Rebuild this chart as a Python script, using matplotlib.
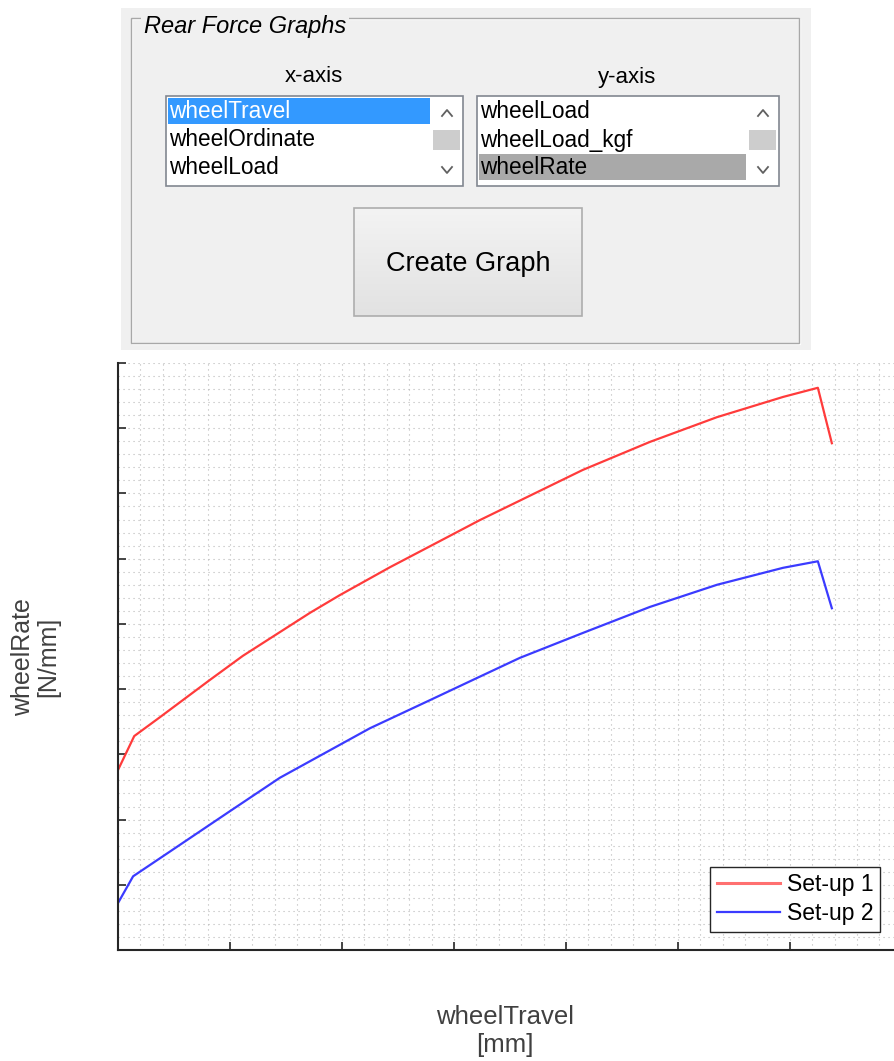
import numpy as np
import matplotlib.pyplot as plt
from matplotlib.patches import Rectangle
from matplotlib.lines import Line2D
from matplotlib.ticker import MultipleLocator
from matplotlib.colors import LinearSegmentedColormap

plt.rcParams['font.family'] = ['Liberation Sans', 'DejaVu Sans']

# GUI list contents
x_items = ["wheelTravel", "wheelOrdinate", "wheelLoad"]
y_items = ["wheelLoad", "wheelLoad_kgf", "wheelRate"]
series_names = ["Set-up 1", "Set-up 2"]

# wheel rate vs wheel travel
travel_1 = [0, 2.9, 7.5, 16.4, 22.3, 34.3, 39.6, 48.6, 57.5, 64.6, 83.0, 95.0, 107.0, 118.8, 125.0, 127.5]
rate_1 = [27.6, 32.8, 35.7, 41.4, 45.1, 51.7, 54.4, 58.7, 62.7, 65.9, 73.6, 77.9, 81.7, 84.8, 86.2, 77.7]
travel_2 = [0, 2.7, 10.5, 19.5, 28.9, 45.0, 55.7, 64.6, 71.8, 83.0, 95.0, 107.0, 118.8, 125.0, 127.5]
rate_2 = [7.2, 11.3, 15.8, 21.0, 26.4, 34.0, 38.3, 41.9, 44.8, 48.6, 52.6, 56.0, 58.6, 59.6, 52.4]

W, H = 894, 1061
fig = plt.figure(figsize=(W / 100, H / 100), dpi=100)

# overlay in pixel coordinates for the GUI panel
gui = fig.add_axes([0, 0, 1, 1])
gui.axis("off")


def box(x0, y0, x1, y1, **kw):
    gui.add_patch(Rectangle((x0, y0), x1 - x0, y1 - y0, **kw))


box(121, 8, 811, 350, facecolor="#f0f0f0", edgecolor="none")
box(132, 19, 800, 344, facecolor="none", edgecolor="white", lw=1)
box(131, 18, 799, 343, facecolor="none", edgecolor="#a8a8a8", lw=1)
gui.text(144, 26, "Rear Force Graphs", style="italic", fontsize=17, va="center",
         bbox=dict(facecolor="#f0f0f0", edgecolor="none", pad=2))

gui.text(314, 77, "x-axis", fontsize=16, ha="center", va="center")
gui.text(627, 77, "y-axis", fontsize=16, ha="center", va="center")


def listbox(x0, x1, items, sel, sel_color, sel_text):
    box(x0, 96, x1, 186, facecolor="white", edgecolor="#828790", lw=1.2)
    sb = x1 - 32
    box(sb + 2, 130, x1 - 3, 150, facecolor="#cdcdcd", edgecolor="none")
    cx = sb + 16
    gui.plot([cx - 5, cx, cx + 5], [116, 110, 116], color="#606060", lw=1.3)
    gui.plot([cx - 5, cx, cx + 5], [167, 173, 167], color="#606060", lw=1.3)
    for i, name in enumerate(items):
        yc = 111 + 28 * i
        if i == sel:
            box(x0 + 2, yc - 13, sb - 1, yc + 13, facecolor=sel_color, edgecolor="none")
        gui.text(x0 + 3, yc + 1, name, fontsize=16.3, va="center",
                 color=sel_text if i == sel else "black")


listbox(166, 463, x_items, 0, "#3399ff", "white")
listbox(477, 779, y_items, 2, "#a9a9a9", "black")

btn_cmap = LinearSegmentedColormap.from_list("btn", ["#f3f3f3", "#e2e2e2"])
gui.imshow(np.linspace(0, 1, 64)[:, None], extent=(354, 582, 316, 208), cmap=btn_cmap,
           aspect="auto", zorder=1)
box(354, 208, 582, 316, facecolor="none", edgecolor="#adadad", lw=1.2, zorder=2)
gui.text(468, 264, "Create Graph", fontsize=19.5, ha="center", va="center", zorder=3)
gui.set_xlim(0, W)
gui.set_ylim(H, 0)

# plot axes
ax = fig.add_axes([118 / W, (H - 950) / H, 776 / W, 587 / H])
ax.plot(travel_1, rate_1, color="#ff3b3b", lw=1.6, solid_joinstyle="round")
ax.plot(travel_2, rate_2, color="#3b3bff", lw=1.6, solid_joinstyle="round")
ax.set_xlim(0, 138.6)
ax.set_ylim(0, 90)
ax.xaxis.set_major_locator(MultipleLocator(20))
ax.xaxis.set_minor_locator(MultipleLocator(4))
ax.yaxis.set_major_locator(MultipleLocator(10))
ax.yaxis.set_minor_locator(MultipleLocator(2))
ax.grid(which="both", linestyle=(0, (1, 3.5)), color="#b8b8b8", lw=0.8)
ax.set_axisbelow(True)
ax.tick_params(which="major", direction="in", length=6, width=1.2, color="#262626",
               labelleft=False, labelbottom=False)
ax.tick_params(which="minor", length=0)
for side in ["top", "right"]:
    ax.spines[side].set_visible(False)
for side in ["left", "bottom"]:
    ax.spines[side].set_color("#262626")
    ax.spines[side].set_linewidth(1.5)

handles = [Line2D([], [], color="#ff7070", lw=2.2), Line2D([], [], color="#3b3bff", lw=1.6)]
ax.legend(handles, series_names, loc="lower right",
          bbox_to_anchor=(880 / W, (H - 932) / H), bbox_transform=fig.transFigure,
          fancybox=False, edgecolor="#262626", framealpha=1, fontsize=16.5,
          handlelength=2.75, borderpad=0.3, labelspacing=0.25, handletextpad=0.3,
          borderaxespad=0)

fig.text(36 / W, (H - 657) / H, "wheelRate\n[N/mm]", rotation=90, ha="center", va="center",
         fontsize=18, color="#404040", multialignment="center", linespacing=1.05)
fig.text(505 / W, (H - 1031) / H, "wheelTravel\n[mm]", ha="center", va="center",
         fontsize=18.5, color="#404040", multialignment="center", linespacing=1.2)

fig.savefig("out.png", dpi=100)
